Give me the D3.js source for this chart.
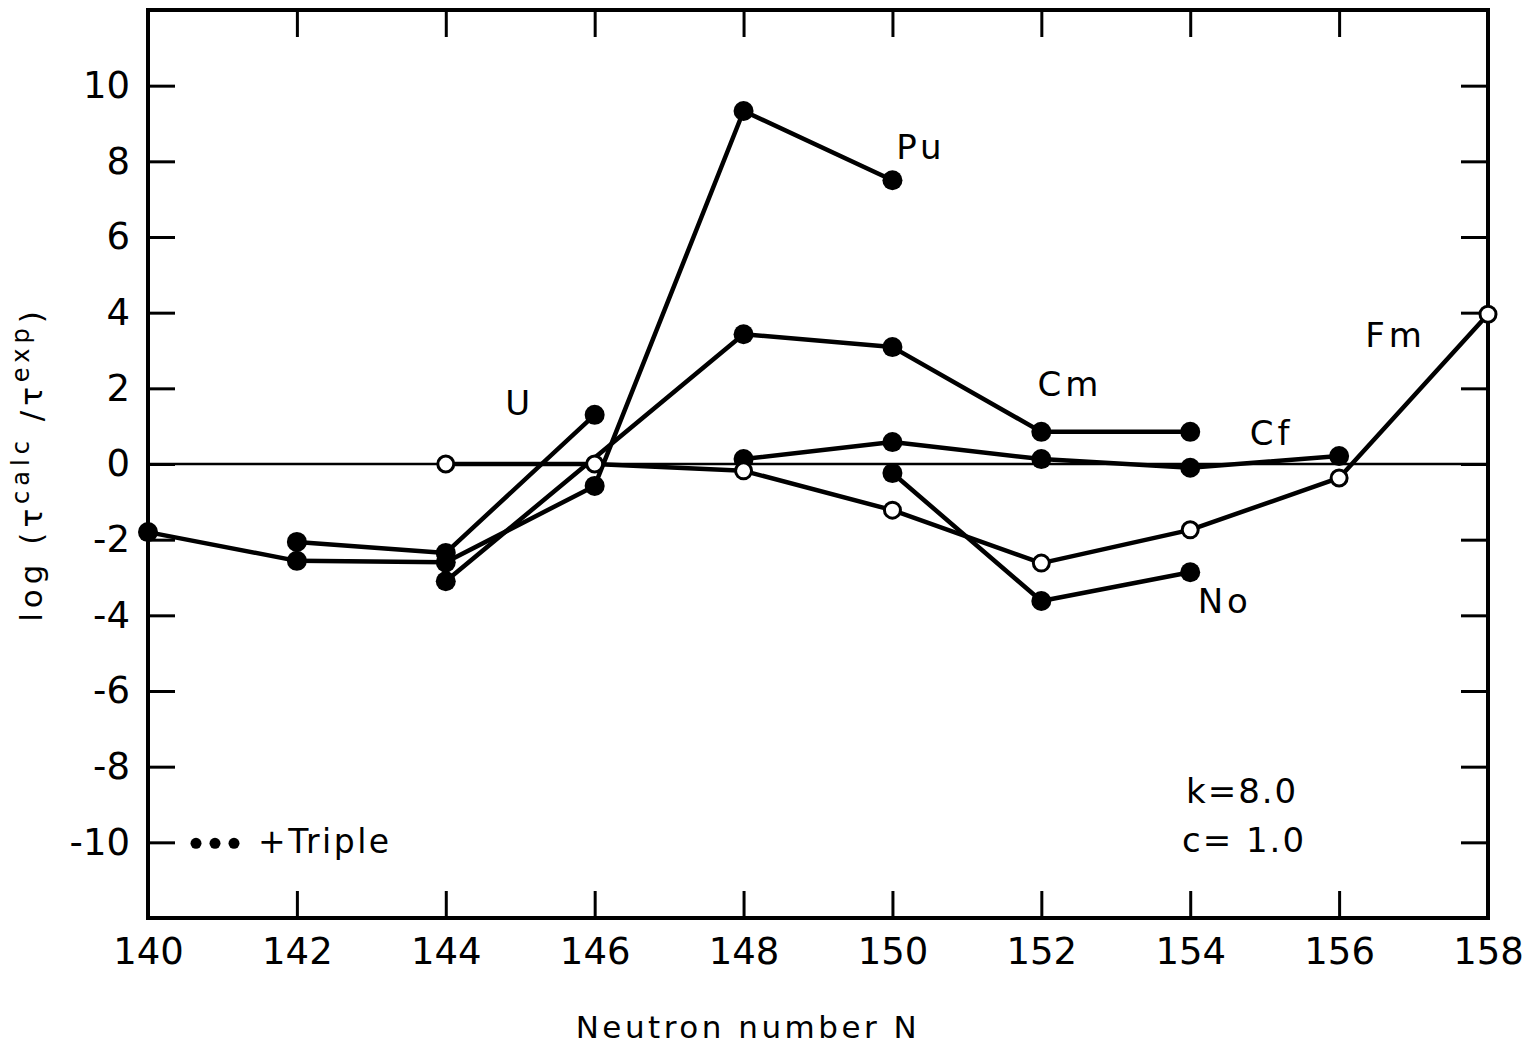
<!DOCTYPE html>
<html>
<head>
<meta charset="utf-8">
<script src="https://cdn.jsdelivr.net/npm/d3@7"></script>
<style>
	body { margin: 0; background: #fff; }
	text { font-family: "DejaVu Sans", sans-serif; fill: #000; }
</style>
</head>
<body>
<div id="chart"></div>
<script>
// tick values
var xTicks = [140, 142, 144, 146, 148, 150, 152, 154, 156, 158];
var yTicks = [-10, -8, -6, -4, -2, 0, 2, 4, 6, 8, 10];

// series: [N, value]
var puData = [[140, -1.8], [142, -2.56], [144, -2.6], [146, -0.58], [148, 9.33], [150, 7.5]];
var uData = [[142, -2.06], [144, -2.35], [146, 1.3]];
var cmData = [[144, -3.1], [148, 3.43], [150, 3.09], [152, 0.85], [154, 0.85]];
var cfData = [[148, 0.13], [150, 0.58], [152, 0.13], [154, -0.1], [156, 0.21]];
var fmData = [[144, 0], [146, 0], [148, -0.18], [150, -1.22], [152, -2.62], [154, -1.74], [156, -0.37], [158, 3.96]];
var noData = [[150, -0.24], [152, -3.62], [154, -2.86]];

var seriesLabels = [
	{name: "Pu", x: 150.05, y: 8.05},
	{name: "U", x: 144.8, y: 1.3},
	{name: "Cm", x: 151.95, y: 1.8},
	{name: "Cf", x: 154.8, y: 0.5},
	{name: "Fm", x: 156.35, y: 3.08},
	{name: "No", x: 154.1, y: -3.95}
];

var width = 1537, height = 1048;
var margin = {left: 148, right: 49, top: 10, bottom: 130};

var svg = d3.select("#chart").append("svg")
	.attr("width", width)
	.attr("height", height);

var x = d3.scaleLinear().domain([140, 158]).range([margin.left, width - margin.right]);
var y = d3.scaleLinear().domain([-12, 12]).range([height - margin.bottom, margin.top]);

var tickLen = 27;

//坐标框
svg.append("rect")
	.attr("x", x(140))
	.attr("y", y(12))
	.attr("width", x(158) - x(140))
	.attr("height", y(-12) - y(12))
	.attr("fill", "none")
	.attr("stroke", "#000")
	.attr("stroke-width", 4);

// bottom / top ticks
svg.append("g")
	.attr("transform", "translate(0," + y(-12) + ")")
	.call(d3.axisBottom(x).tickValues(xTicks).tickSize(-tickLen).tickPadding(tickLen - 7).tickFormat(d3.format("d")))
	.call(function (g) {
		g.select(".domain").remove();
		g.selectAll("line").attr("stroke-width", 3);
		g.selectAll("text").attr("font-size", 37).style("font-family", "DejaVu Sans");
	});

svg.append("g")
	.attr("transform", "translate(0," + y(12) + ")")
	.call(d3.axisTop(x).tickValues(xTicks).tickSize(-tickLen).tickFormat(""))
	.call(function (g) {
		g.select(".domain").remove();
		g.selectAll("line").attr("stroke-width", 3);
	});

// left / right ticks
svg.append("g")
	.attr("transform", "translate(" + x(140) + ",0)")
	.call(d3.axisLeft(y).tickValues(yTicks).tickSize(-tickLen).tickPadding(18).tickFormat(d3.format("d")))
	.call(function (g) {
		g.select(".domain").remove();
		g.selectAll("line").attr("stroke-width", 3);
		g.selectAll("text").attr("font-size", 37).style("font-family", "DejaVu Sans")
			.text(function (d) { return d < 0 ? "-" + Math.abs(d) : d; });
	});

svg.append("g")
	.attr("transform", "translate(" + x(158) + ",0)")
	.call(d3.axisRight(y).tickValues(yTicks).tickSize(-tickLen).tickFormat(""))
	.call(function (g) {
		g.select(".domain").remove();
		g.selectAll("line").attr("stroke-width", 3);
	});

// zero line
svg.append("line")
	.attr("x1", x(140)).attr("x2", x(158))
	.attr("y1", y(0)).attr("y2", y(0))
	.attr("stroke", "#000")
	.attr("stroke-width", 2.5);

var line = d3.line()
	.x(function (d) { return x(d[0]); })
	.y(function (d) { return y(d[1]); });

var filledSeries = [puData, uData, cmData, cfData, noData];
var allSeries = filledSeries.concat([fmData]);

svg.selectAll("path.series")
	.data(allSeries)
	.enter().append("path")
	.attr("class", "series")
	.attr("d", line)
	.attr("fill", "none")
	.attr("stroke", "#000")
	.attr("stroke-width", 4.5)
	.attr("stroke-linejoin", "round");

filledSeries.forEach(function (s) {
	svg.selectAll(null)
		.data(s)
		.enter().append("circle")
		.attr("cx", function (d) { return x(d[0]); })
		.attr("cy", function (d) { return y(d[1]); })
		.attr("r", 10)
		.attr("fill", "#000");
});

svg.selectAll("circle.open")
	.data(fmData)
	.enter().append("circle")
	.attr("class", "open")
	.attr("cx", function (d) { return x(d[0]); })
	.attr("cy", function (d) { return y(d[1]); })
	.attr("r", 8)
	.attr("fill", "#fff")
	.attr("stroke", "#000")
	.attr("stroke-width", 3);

// element labels
svg.selectAll("text.elem")
	.data(seriesLabels)
	.enter().append("text")
	.attr("class", "elem")
	.attr("x", function (d) { return x(d.x); })
	.attr("y", function (d) { return y(d.y); })
	.attr("font-size", 34)
	.attr("letter-spacing", 4)
	.text(function (d) { return d.name; });

// legend note
[0, 1, 2].forEach(function (i) {
	svg.append("circle")
		.attr("cx", x(140) + 48 + i * 19)
		.attr("cy", y(-10) + 1)
		.attr("r", 5.5)
		.attr("fill", "#000");
});
svg.append("text")
	.attr("x", x(140) + 110)
	.attr("y", y(-10) + 11)
	.attr("font-size", 33)
	.attr("letter-spacing", 2.5)
	.text("+Triple");

svg.append("text")
	.attr("x", 1186)
	.attr("y", 803)
	.attr("font-size", 34)
	.attr("letter-spacing", 2)
	.text("k=8.0");
svg.append("text")
	.attr("x", 1182)
	.attr("y", 852)
	.attr("font-size", 34)
	.attr("letter-spacing", 2)
	.text("c= 1.0");

// axis titles
svg.append("text")
	.attr("x", 748)
	.attr("y", 1038)
	.attr("text-anchor", "middle")
	.attr("font-size", 31)
	.attr("letter-spacing", 3.5)
	.text("Neutron number N");

var yTitle = svg.append("text")
	.attr("transform", "translate(42," + y(0) + ") rotate(-90)")
	.attr("text-anchor", "middle")
	.attr("font-size", 31)
	.attr("letter-spacing", 5);
yTitle.append("tspan").text("log (τ");
yTitle.append("tspan").attr("dy", -13).attr("font-size", 24).text("calc");
yTitle.append("tspan").attr("dy", 13).text(" /τ");
yTitle.append("tspan").attr("dy", -13).attr("font-size", 24).text("exp");
yTitle.append("tspan").attr("dy", 13).text(")");
</script>
</body>
</html>
